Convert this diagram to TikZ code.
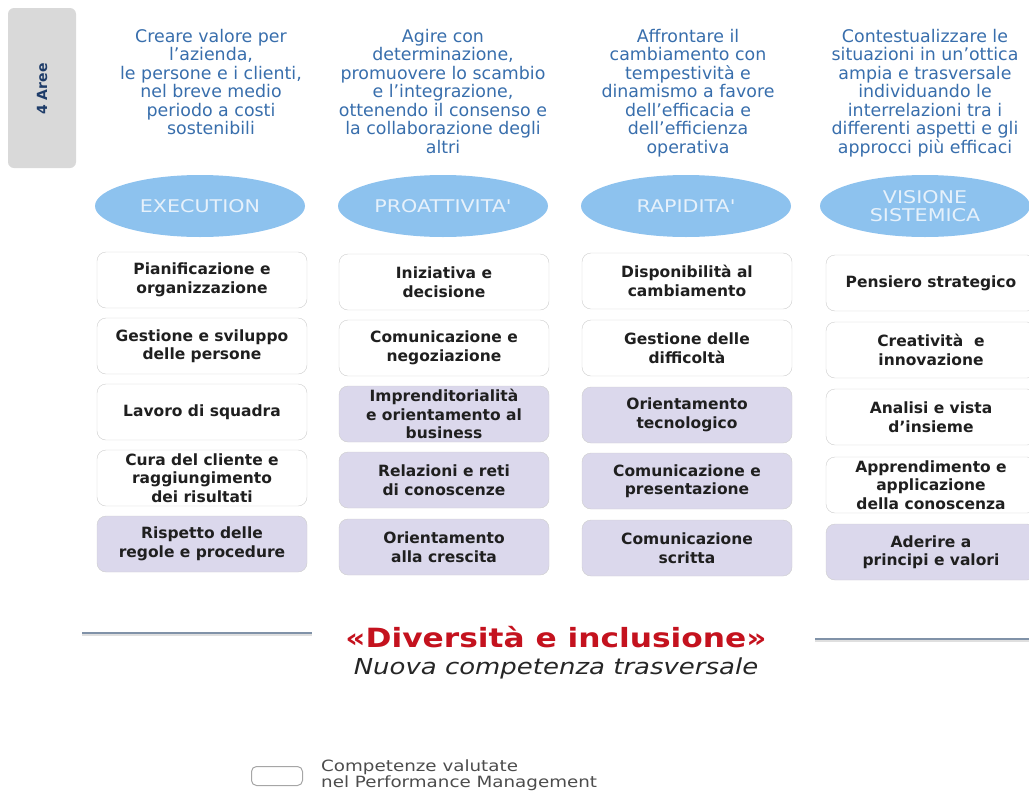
\documentclass[tikz,border=0pt]{standalone}
\usepackage{fontspec}
\setmainfont{DejaVu Sans}
\newfontfamily\widefont{DejaVu Sans}[FakeStretch=1.18]
\usepackage{tikz}
\usetikzlibrary{shapes.geometric}

\definecolor{descblue}{RGB}{56,110,172}
\definecolor{areablue}{RGB}{141,194,238}
\definecolor{areatext}{RGB}{230,241,251}
\definecolor{boxline}{RGB}{205,205,205}
\definecolor{lavender}{RGB}{219,216,236}
\definecolor{titlered}{RGB}{196,18,30}
\definecolor{ruleblue}{RGB}{128,146,168}
\definecolor{tabgrey}{RGB}{217,217,217}
\definecolor{tabblue}{RGB}{30,60,105}

\begin{document}
\begin{tikzpicture}[x=1pt, y=-1pt,
  descr/.style={anchor=north, align=center, inner sep=0, text=descblue,
    font=\fontsize{17.4}{18.5}\selectfont},
  area/.style={ellipse, fill=areablue, minimum width=210, minimum height=62,
    inner sep=1pt, align=center, text=areatext,
    font=\widefont\fontsize{17.5}{17.5}\selectfont},
  comp/.style={draw=boxline, fill=white, rounded corners=9pt, minimum width=210,
    minimum height=56, inner sep=1pt, align=center, text=black!88,
    font=\fontsize{15.5}{18.5}\selectfont\bfseries},
  comppm/.style={comp, fill=lavender},
]
\useasboundingbox (0,0) rectangle (1029,793);

% tab
\node[fill=tabgrey, rounded corners=6pt, minimum width=68, minimum height=160] (tab) at (42,88) {};
\node[rotate=90, text=tabblue, font=\fontsize{14}{16}\selectfont\bfseries] (aree) at (42,89) {4 Aree};

% descriptions
\node[descr] (d1) at (211,29) {Creare valore per\\l'azienda,\\le persone e i clienti,\\nel breve medio\\periodo a costi\\sostenibili};
\node[descr] (d2) at (443,29) {Agire con\\determinazione,\\promuovere lo scambio\\e l'integrazione,\\ottenendo il consenso e\\la collaborazione degli\\altri};
\node[descr] (d3) at (688,29) {Affrontare il\\cambiamento con\\tempestività e\\dinamismo a favore\\dell'efficacia e\\dell'efficienza\\operativa};
\node[descr] (d4) at (925,29) {Contestualizzare le\\situazioni in un'ottica\\ampia e trasversale\\individuando le\\interrelazioni tra i\\differenti aspetti e gli\\approcci più efficaci};

% areas
\node[area] (exec) at (200,206) {EXECUTION};
\node[area] (proatt) at (443,206) {PROATTIVITA'};
\node[area] (rapid) at (686,206) {RAPIDITA'};
\node[area] (visione) at (925,206) {VISIONE\\SISTEMICA};

% execution
\node[comp] (pian) at (202,280) {Pianificazione e\\organizzazione};
\node[comp] (gest) at (202,346) {Gestione e sviluppo\\delle persone};
\node[comp] (lavoro) at (202,412) {Lavoro di squadra};
\node[comp] (cura) at (202,478) {Cura del cliente e\\raggiungimento\\dei risultati};
\node[comppm] (rispetto) at (202,544) {Rispetto delle\\regole e procedure};

% proattivita
\node[comp] (inizia) at (444,282) {Iniziativa e\\decisione};
\node[comp] (comneg) at (444,348) {Comunicazione e\\negoziazione};
\node[comppm] (impren) at (444,414) {Imprenditorialità\\e orientamento al\\business};
\node[comppm] (relaz) at (444,480) {Relazioni e reti\\di conoscenze};
\node[comppm] (crescita) at (444,547) {Orientamento\\alla crescita};

% rapidita
\node[comp] (dispo) at (687,281) {Disponibilità al\\cambiamento};
\node[comp] (diffic) at (687,348) {Gestione delle\\difficoltà};
\node[comppm] (tecno) at (687,415) {Orientamento\\tecnologico};
\node[comppm] (compres) at (687,481) {Comunicazione e\\presentazione};
\node[comppm] (scritta) at (687,548) {Comunicazione\\scritta};

% visione sistemica
\node[comp] (pensiero) at (931,283) {Pensiero strategico};
\node[comp] (creat) at (931,350) {Creatività~ e\\innovazione};
\node[comp] (analisi) at (931,417) {Analisi e vista\\d'insieme};
\node[comp] (appren) at (931,485) {Apprendimento e\\applicazione\\della conoscenza};
\node[comppm] (aderire) at (931,552) {Aderire a\\principi e valori};

% diversita e inclusione
\coordinate (L1) at (82,633);
\coordinate (L2) at (312,633);
\coordinate (R1) at (815,639);
\coordinate (R2) at (1029,639);
\draw[gray!25, line width=1.5pt] ([yshift=-2pt]L1) -- ([yshift=-2pt]L2);
\draw[gray!25, line width=1.5pt] ([yshift=-2pt]R1) -- ([yshift=-2pt]R2);
\draw[ruleblue, line width=1.8pt] (L1) -- (L2);
\draw[ruleblue, line width=1.8pt] (R1) -- (R2);
\node[anchor=base, inner sep=0, text=titlered,
  font=\widefont\fontsize{26.5}{28}\selectfont\bfseries] (divers) at (556,647) {«Diversità e inclusione»};
\node[anchor=base, inner sep=0, text=black!85,
  font=\widefont\fontsize{22}{24}\selectfont\itshape] (nuova) at (556,674) {Nuova competenza trasversale};

% legend
\node[draw=gray!70, line width=1pt, fill=white, rounded corners=5pt, minimum width=51, minimum height=19] (leg) at (277,776) {};
\node[anchor=north west, align=left, inner sep=0, text=black!70,
  font=\widefont\fontsize{15.5}{16}\selectfont] (legtext) at (321,760) {Competenze valutate\\nel Performance Management};

\end{tikzpicture}
\end{document}
